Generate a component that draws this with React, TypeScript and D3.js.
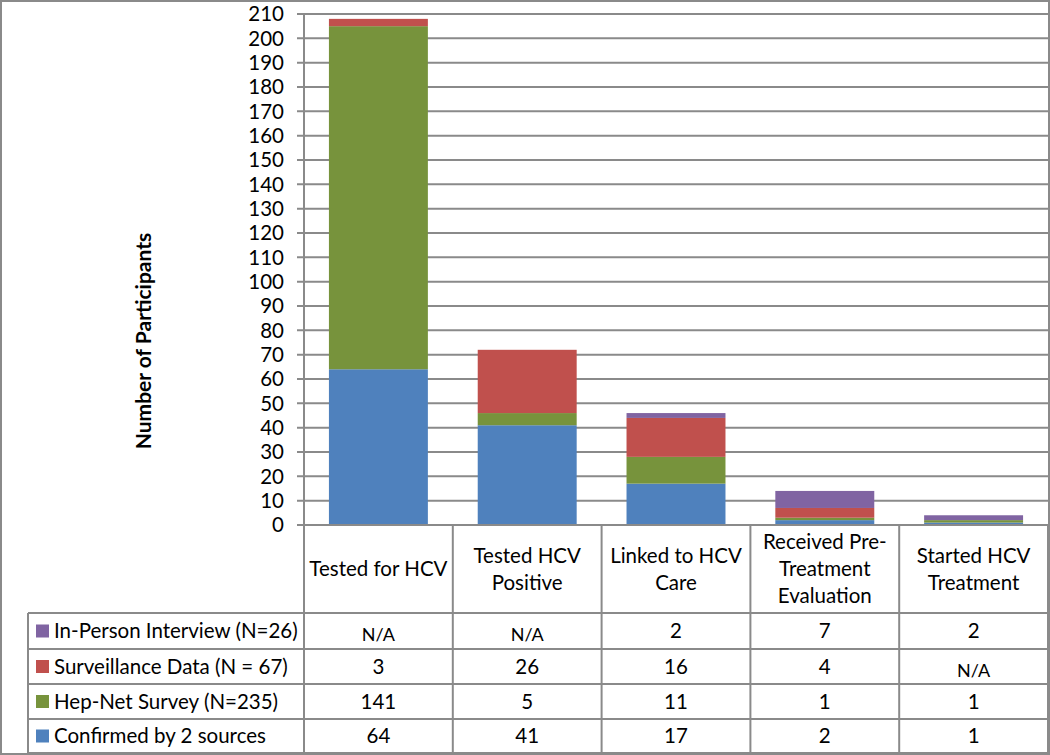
import React from "react";
import * as d3 from "d3";

const categories = [
  "Tested for HCV",
  "Tested HCV Positive",
  "Linked to HCV Care",
  "Received Pre-Treatment Evaluation",
  "Started HCV Treatment",
];
const categoryLines = [
  ["Tested for HCV"],
  ["Tested HCV", "Positive"],
  ["Linked to HCV", "Care"],
  ["Received Pre-", "Treatment", "Evaluation"],
  ["Started HCV", "Treatment"],
];
const seriesNames = [
  "Confirmed by 2 sources",
  "Hep-Net Survey (N=235)",
  "Surveillance Data (N = 67)",
  "In-Person Interview (N=26)",
];
const confirmed = [64, 41, 17, 2, 1];
const hepNet = [141, 5, 11, 1, 1];
const surveillance: (number | null)[] = [3, 26, 16, 4, null];
const inPerson: (number | null)[] = [null, null, 2, 7, 2];
const seriesColors = ["#4F81BD", "#77933C", "#C0504D", "#8064A2"];
const yTicks = d3.range(0, 211, 10);

const FONT = "Lato, 'Open Sans', sans-serif";
const GRID = "#8a8a8a";
const FS = 20.5;

export default function App() {
  const W = 1050;
  const H = 755;
  const left = 304;
  const right = 1048;
  const top = 14;
  const bottom = 525;
  const rowLines = [613, 649, 684, 719, 753];
  const tableLeft = 28;

  const seriesValues = [confirmed, hepNet, surveillance, inPerson];
  const rows = categories.map((c, i) => {
    const o: any = { cat: c };
    seriesNames.forEach((s, j) => (o[s] = seriesValues[j][i] ?? 0));
    return o;
  });
  const stacked = d3.stack<any>().keys(seriesNames)(rows);

  const x = d3
    .scaleBand<string>()
    .domain(categories)
    .range([left, right])
    .paddingInner(0.335)
    .paddingOuter(0.1675);
  const col = d3.scaleBand<string>().domain(categories).range([left, right]).padding(0);
  const y = d3.scaleLinear().domain([0, 210]).range([bottom, top]);

  const tableOrder = [3, 2, 1, 0];

  return (
    <svg
      width={W}
      height={H}
      style={{ position: "absolute", left: 0, top: 0, background: "#fff" }}
      fontFamily={FONT}
    >
      <rect x={1} y={1} width={W - 2} height={H - 2} fill="#fff" stroke={GRID} strokeWidth={2} />
      {yTicks.map((t) => (
        <g key={t}>
          <line x1={left - 7} x2={right} y1={y(t)} y2={y(t)} stroke={GRID} strokeWidth={2} />
          <text x={284} y={y(t)} dy="0.35em" textAnchor="end" fontSize={FS} fill="#000">
            {t}
          </text>
        </g>
      ))}
      {stacked.map((s, si) => (
        <g key={s.key} fill={seriesColors[si]}>
          {s.map((d, i) => {
            const h = y(d[0]) - y(d[1]);
            if (h <= 0) return null;
            return (
              <rect key={i} x={x(categories[i])} y={y(d[1])} width={x.bandwidth()} height={h} />
            );
          })}
        </g>
      ))}
      <line x1={left} x2={left} y1={top} y2={rowLines[4]} stroke={GRID} strokeWidth={2} />
      <line x1={left - 7} x2={right} y1={bottom} y2={bottom} stroke={GRID} strokeWidth={2} />
      {categories.map((c, i) => (
        <line
          key={"v" + i}
          x1={(col(c) as number) + col.bandwidth()}
          x2={(col(c) as number) + col.bandwidth()}
          y1={bottom}
          y2={rowLines[4]}
          stroke={GRID}
          strokeWidth={2}
        />
      ))}
      <line x1={tableLeft} x2={tableLeft} y1={rowLines[0]} y2={rowLines[4]} stroke={GRID} strokeWidth={2} />
      {rowLines.map((ry, i) => (
        <line key={"h" + i} x1={tableLeft} x2={right} y1={ry} y2={ry} stroke={GRID} strokeWidth={2} />
      ))}
      {categoryLines.map((lines, i) => {
        const cx = (col(categories[i]) as number) + col.bandwidth() / 2;
        const mid = (bottom + rowLines[0]) / 2;
        const lh = 27;
        return (
          <text key={"c" + i} textAnchor="middle" fontSize={FS} fill="#000">
            {lines.map((l, k) => (
              <tspan key={k} x={cx} y={mid + (k - (lines.length - 1) / 2) * lh} dy="0.35em">
                {l}
              </tspan>
            ))}
          </text>
        );
      })}
      {tableOrder.map((si, r) => {
        const cy = (rowLines[r] + rowLines[r + 1]) / 2;
        return (
          <g key={"r" + r}>
            <rect x={36} y={cy - 6.5} width={13} height={13} fill={seriesColors[si]} />
            <text x={54} y={cy} dy="0.35em" fontSize={FS} fill="#000">
              {seriesNames[si]}
            </text>
            {seriesValues[si].map((v, i) => {
              const cx = (col(categories[i]) as number) + col.bandwidth() / 2;
              return (
                <text
                  key={i}
                  x={cx}
                  y={v == null ? cy + 4 : cy}
                  dy="0.35em"
                  textAnchor="middle"
                  fontSize={v == null ? 18 : FS}
                  fill="#000"
                >
                  {v == null ? "N/A" : v}
                </text>
              );
            })}
          </g>
        );
      })}
      <text
        transform={`translate(151,341) rotate(-90)`}
        textAnchor="middle"
        fontSize={21}
        fontWeight="bold"
        fill="#000"
      >
        Number of Participants
      </text>
    </svg>
  );
}
